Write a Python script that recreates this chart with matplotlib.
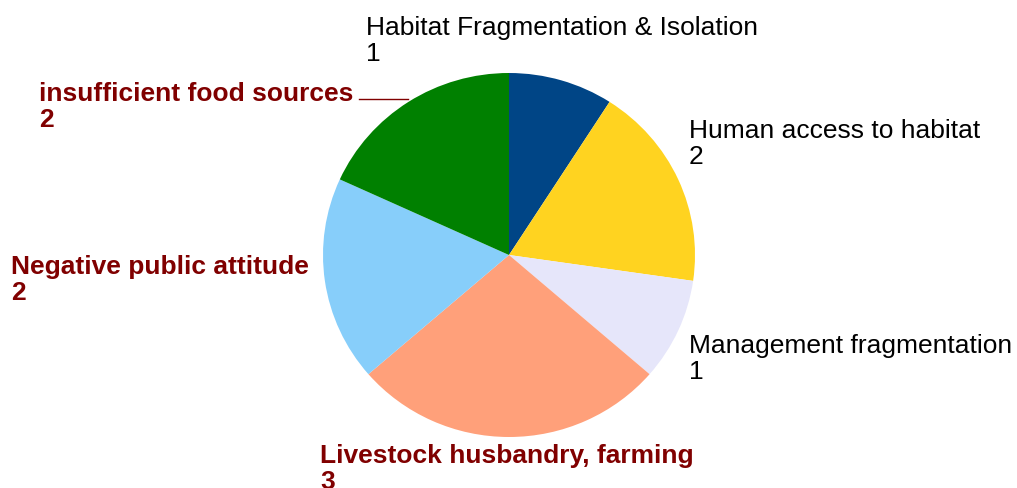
import matplotlib.pyplot as plt

plt.rcParams['font.family'] = ['Liberation Sans', 'DejaVu Sans']

# Data
labels = ['Habitat Fragmentation & Isolation', 'Human access to habitat',
          'Management fragmentation', 'Livestock husbandry, farming',
          'Negative public attitude', 'insufficient food sources']
values = [1, 2, 1, 3, 2, 2]
colors = ['#004586', '#ffd320', '#e6e6fa', '#ffa07a', '#87cefa', '#008000']

W, H = 1017, 488
fig = plt.figure(figsize=(W / 100, H / 100), dpi=100)
fig.patch.set_facecolor('white')

# pie axes placed in pixel terms
cx, cy, rx, ry = 509, 255, 186, 182
ax = fig.add_axes([(cx - rx) / W, (H - cy - ry) / H, 2 * rx / W, 2 * ry / H])
ax.pie(values, colors=colors, startangle=90, counterclock=False,
       wedgeprops=dict(linewidth=0))
ax.set_aspect('auto')
ax.set_xlim(-1, 1)
ax.set_ylim(-1, 1)
ax.axis('off')

# label positions (left x, block centre y) in pixels
pos = [(366, 41), (689, 144), (689, 359), (320, 469), (11, 280), (39, 107)]
bold = [False, False, False, True, True, True]
for lab, v, (px, py), b in zip(labels, values, pos, bold):
    fig.text(px / W, 1 - py / H, f'{lab}\n{v}', ha='left', va='center',
             fontsize=19, linespacing=1.14,
             color='#800000' if b else 'black',
             fontweight='bold' if b else 'normal')

# leader line for the food sources label
fig.add_artist(plt.Line2D([359 / W, 408 / W], [1 - 99 / H, 1 - 99 / H],
                          color='#800000', lw=1))

fig.savefig('out.png', dpi=100, facecolor='white')
